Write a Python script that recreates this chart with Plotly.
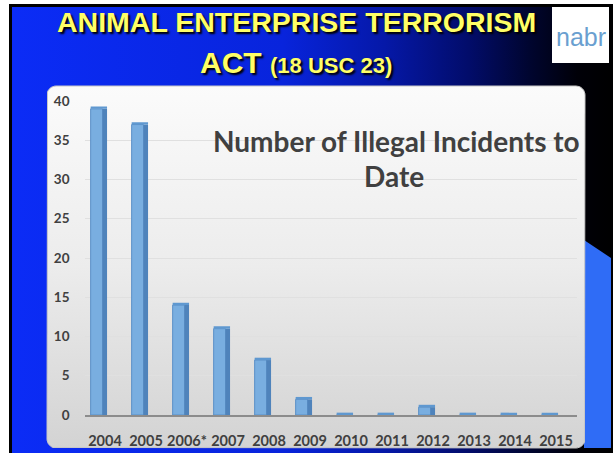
import numpy as np
import plotly.graph_objects as go

# ---------------- data ----------------
years = ["2004", "2005", "2006*", "2007", "2008", "2009",
         "2010", "2011", "2012", "2013", "2014", "2015"]
incidents = [39, 37, 14, 11, 7, 2, 0, 0, 1, 0, 0, 0]
y_ticks = [0, 5, 10, 15, 20, 25, 30, 35, 40]

slide_title_1 = "ANIMAL ENTERPRISE TERRORISM"
slide_title_2 = "ACT <span style='font-size:22px'>(18 USC 23)</span>"
chart_title_1 = "Number of Illegal Incidents to"
chart_title_2 = "Date"
logo_text = "nabr"

W, H = 613, 453
fig = go.Figure()


def rect(x0, y0, x1, y1):
    return [x0, x1, x1, x0, x0], [y0, y0, y1, y1, y0]


def rounded_rect(x0, y0, x1, y1, r, n=10):
    xs, ys = [], []
    corners = [(x1 - r, y0 + r, -np.pi / 2, 0),
               (x1 - r, y1 - r, 0, np.pi / 2),
               (x0 + r, y1 - r, np.pi / 2, np.pi),
               (x0 + r, y0 + r, np.pi, 1.5 * np.pi)]
    for cx, cy, a0, a1 in corners:
        t = np.linspace(a0, a1, n)
        xs += list(cx + r * np.cos(t))
        ys += list(cy + r * np.sin(t))
    xs.append(xs[0]); ys.append(ys[0])
    return xs, ys


# ---------------- slide background (pixel axes) ----------------
bx, by = rect(9, 4, 613, 453)
fig.add_trace(go.Scatter(x=bx, y=by, mode="lines", fill="toself",
                         fillcolor="#000000", line=dict(width=0),
                         hoverinfo="skip", showlegend=False))
gx, gy = rect(12, 7, 613, 453)
fig.add_trace(go.Scatter(x=gx, y=gy, mode="lines", fill="toself",
                         line=dict(width=0), hoverinfo="skip", showlegend=False,
                         fillgradient=dict(type="horizontal", start=12, stop=613,
                                           colorscale=[[0, "#0b2cf6"], [0.45, "#0824dc"],
                                                       [0.62, "#0518a8"], [0.76, "#020c6a"],
                                                       [0.86, "#000530"], [0.94, "#000008"],
                                                       [1, "#000000"]])))
# right decorative blue shape
fig.add_trace(go.Scatter(x=[584, 611, 611, 584, 584], y=[240, 258, 448, 448, 240],
                         mode="lines", fill="toself", fillcolor="#2f6cf6",
                         line=dict(width=0), hoverinfo="skip", showlegend=False))
# chart panel
px_, py_ = rounded_rect(47, 86, 585, 448, 9)
fig.add_trace(go.Scatter(x=px_, y=py_, mode="lines", fill="toself",
                         line=dict(width=1, color="#c8c8c8"), hoverinfo="skip",
                         showlegend=False,
                         fillgradient=dict(type="vertical", start=86, stop=448,
                                           colorscale=[[0, "#fbfbfb"], [0.5, "#ececec"],
                                                       [1, "#d3d3d3"]])))

# ---------------- bars (3D look) ----------------
fig.add_trace(go.Bar(x=years, y=incidents, xaxis="x2", yaxis="y2",
                     offset=-0.35, width=0.29,
                     marker=dict(color="#79aee0", line=dict(color="#5a90c8", width=1)),
                     hoverinfo="x+y", showlegend=False))
fig.add_trace(go.Bar(x=years, y=incidents, xaxis="x2", yaxis="y2",
                     offset=-0.06, width=0.11,
                     marker=dict(color="#4f83bb", line=dict(width=0)),
                     hoverinfo="skip", showlegend=False))
fig.add_trace(go.Bar(x=years, y=[0.3] * len(years), base=incidents,
                     xaxis="x2", yaxis="y2",
                     offset=-0.35, width=0.40,
                     marker=dict(color="#5f98d0", line=dict(width=0)),
                     hoverinfo="skip", showlegend=False))

tick_font = dict(family="Lato, Noto Sans, sans-serif", size=13.5, color="#404040", weight="bold")
title_font = dict(family="Liberation Sans, Arial, sans-serif", color="#ffff66",
                  weight="bold", shadow="2px 2px 2px #000000")
chart_title_font = dict(family="Lato, Noto Sans, sans-serif", size=28, color="#404040",
                        weight="bold")

fig.update_layout(
    width=W, height=H,
    margin=dict(l=0, r=0, t=0, b=0, pad=0, autoexpand=False),
    paper_bgcolor="#ffffff",
    plot_bgcolor="rgba(0,0,0,0)",
    barmode="overlay",
    xaxis=dict(domain=[0, 1], range=[0, W], visible=False, fixedrange=True,
               automargin=False),
    yaxis=dict(domain=[0, 1], range=[H, 0], visible=False, fixedrange=True,
               automargin=False),
    xaxis2=dict(domain=[84.5 / W, 576.5 / W], anchor="y2", type="category",
                range=[-0.5, 11.5], showgrid=False, showline=True,
                linecolor="#8c8c8c", linewidth=2, ticks="", automargin=False,
                tickfont=dict(tick_font, size=14.5), ticklabelstandoff=12),
    yaxis2=dict(domain=[1 - 415 / H, 1 - 101 / H], anchor="x2", range=[0, 40],
                tickvals=y_ticks, showgrid=True, gridcolor="#e0e0e0", gridwidth=1,
                zeroline=False, showline=False, ticks="", automargin=False,
                tickfont=tick_font, ticklabelstandoff=14),
    shapes=[dict(type="rect", xref="x", yref="y", x0=552, x1=609, y0=7, y1=63,
                 fillcolor="#ffffff", line=dict(width=0), layer="above")],
    annotations=[
        dict(x=296, y=22, xref="x", yref="y", text=slide_title_1, showarrow=False,
             font=dict(title_font, size=28.5), xanchor="center", yanchor="middle"),
        dict(x=296, y=62, xref="x", yref="y", text=slide_title_2, showarrow=False,
             font=dict(title_font, size=30), xanchor="center", yanchor="middle"),
        dict(x=396, y=141, xref="x", yref="y", text=chart_title_1, showarrow=False,
             font=chart_title_font, xanchor="center", yanchor="middle"),
        dict(x=394, y=176, xref="x", yref="y", text=chart_title_2, showarrow=False,
             font=chart_title_font, xanchor="center", yanchor="middle"),
        dict(x=580.5, y=37, xref="x", yref="y", text=logo_text, showarrow=False,
             font=dict(family="Liberation Sans, Arial, sans-serif", size=25,
                       color="#6a9fd0"),
             xanchor="center", yanchor="middle"),
    ],
)

fig.write_html("out.html", config={"displayModeBar": False},
               post_script="document.body.style.margin='0';"
                           "document.body.style.overflow='hidden';")
